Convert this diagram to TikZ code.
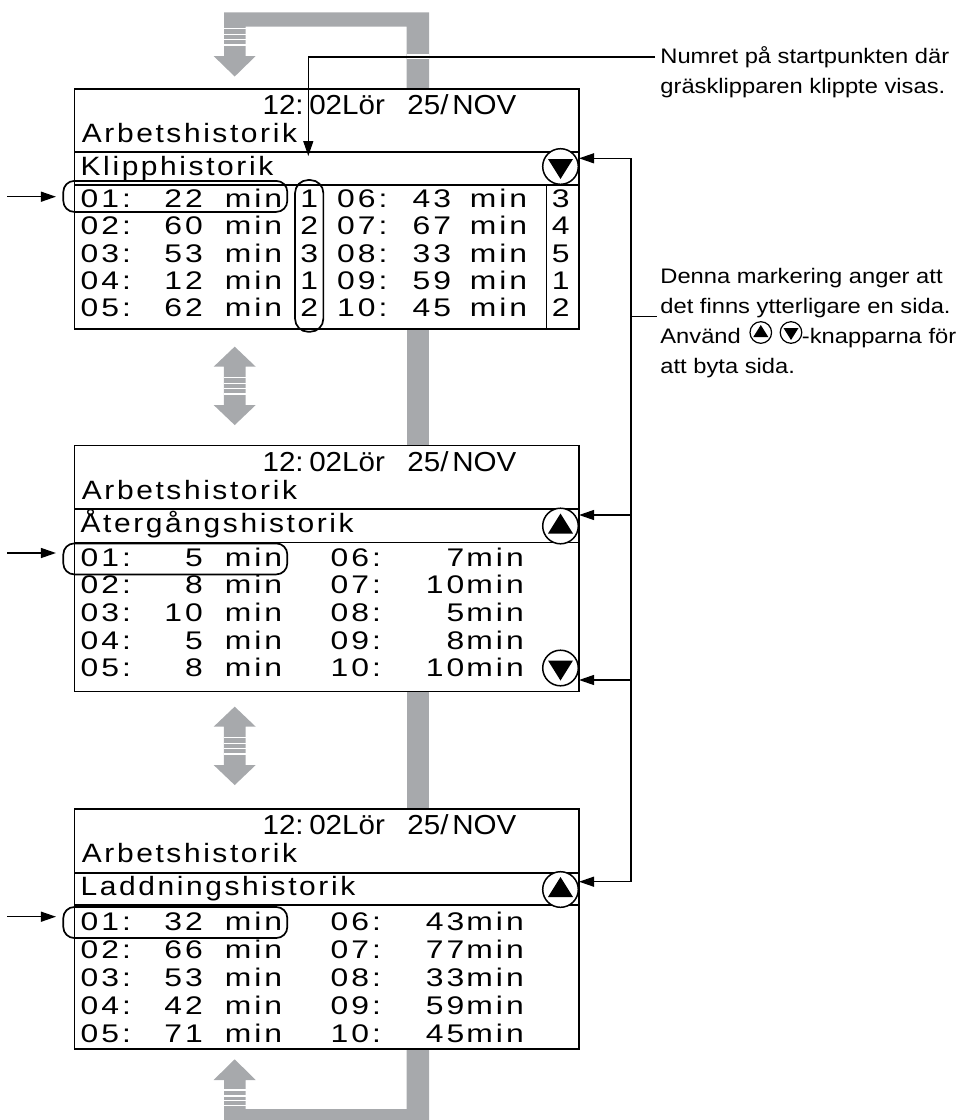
\documentclass[tikz,border=0pt]{standalone}
\usepackage{fontspec}
\setmainfont{Liberation Sans}
\newfontfamily\lcdrow[FakeStretch=1.25,LetterSpace=11.8]{Liberation Sans}
\newfontfamily\lcdtitle[FakeStretch=1.13,LetterSpace=9.8]{Liberation Sans}
\newfontfamily\lcdclock[FakeStretch=1.075]{Liberation Sans}
\newfontfamily\notefont[FakeStretch=1.13]{Liberation Sans}
\usetikzlibrary{arrows.meta,positioning}
\definecolor{bargrey}{HTML}{A7A9AC}

\tikzset{
  uptri/.pic={\fill (-12.5,7.5) -- (12.5,7.5) -- (0,-12.5) -- cycle;},
  dntri/.pic={\fill (-12.5,-7.5) -- (12.5,-7.5) -- (0,12.5) -- cycle;},
  updown/.pic={
    \fill[bargrey] (0,-39.2) -- (21,-19.2) -- (10.85,-19.2) -- (10.85,19.2) -- (21,19.2) -- (0,39.2)
      -- (-21,19.2) -- (-10.85,19.2) -- (-10.85,-19.2) -- (-21,-19.2) -- cycle;
    \foreach \s in {-8.15,-2.55,2.45,8.15} \fill[white] (-10.85,\s-0.65) rectangle (10.85,\s+0.65);
  }
}

\begin{document}
\begin{tikzpicture}[
  x=1pt,y=-1pt,
  panel/.style={draw,line width=1.3pt,inner sep=0,anchor=north west,minimum width=504.3pt},
  rowtxt/.style={inner sep=0,anchor=base west,font=\lcdrow\fontsize{25.5}{30}\selectfont},
  rowval/.style={rowtxt,anchor=base east},
  rowcol/.style={rowtxt,anchor=base},
  title/.style={inner sep=0,anchor=base west,font=\lcdtitle\fontsize{26.5}{30}\selectfont},
  clock/.style={inner sep=0,anchor=base west,font=\lcdclock\fontsize{27.5}{30}\selectfont},
  hsep/.style={line width=2.3pt},
  rule/.style={line width=1.3pt},
  keyring/.style={circle,draw,line width=1.5pt,fill=white,minimum size=35.6pt,inner sep=0},
  minikey/.style={circle,draw,line width=1.2pt,fill=white,minimum size=21.6pt,inner sep=0},
  chosen/.style={draw,line width=1.7pt,rounded corners=11pt,inner sep=0},
  arrow/.style={-{Triangle[length=15pt,width=10pt]},line width=1.3pt},
  wire/.style={line width=1.3pt},
  note/.style={inner sep=0,anchor=base west,font=\notefont\fontsize{21}{30}\selectfont}
]
\useasboundingbox (0,0) rectangle (963,1120);

\fill[bargrey] (224,12.3) -- (429,12.3) -- (429,88.3) -- (406.7,88.3) -- (406.7,26.7) -- (245.7,26.7)
  -- (245.7,56) -- (255.7,56) -- (234.7,76.5) -- (213.6,56) -- (224,56) -- cycle;
\foreach \s in {28.6,34.2,39.2,44.9} \fill[white] (224,\s-0.65) rectangle (245.7,\s+0.65);
\fill[white] (406.7,54.3) rectangle (429,58.7);
\fill[bargrey] (406.7,328.3) rectangle (429,445);
\fill[bargrey] (406.7,690.7) rectangle (429,808.3);
\fill[bargrey] (234.7,1059.3) -- (255.7,1080) -- (245.7,1080) -- (245.7,1109) -- (406.7,1109) -- (406.7,1048.3)
  -- (429,1048.3) -- (429,1120) -- (224,1120) -- (224,1080) -- (213.6,1080) -- cycle;
\foreach \s in {1090,1096,1100.7,1105.7} \fill[white] (224,\s-0.65) rectangle (245.7,\s+0.65);
\pic at (234.7,385.85) {updown};
\pic at (234.7,745.85) {updown};

\foreach \n/\t/\h/\sa/\sb/\head in {1/88.3/240/151.7/185/Klipphistorik,2/445/245.7/509/542.7/Återgångshistorik,3/808.3/240/873.3/905/Laddningshistorik} {
  \node[panel,minimum height=\h pt] (p\n) at (74,\t) {};
  \draw[hsep] (74,\sa) -- (578.3,\sa);
  \draw[rule] (74,\sb) -- (578.3,\sb);
  \node[clock] (clock\n) at (262.4,\t+26) {12:\hspace{5.6pt}02Lör \hspace{14.4pt}25/\hspace{3.7pt}NOV};
  \node[title] (title\n) at (81.7,\t+54.5) {Arbetshistorik};
  \node[title] (head\n) at (80.5,\t+87) {\head};
}

\foreach \a/\b/\c/\d/\e/\f [count=\k from 0] in {01/22/1/06/43/3,02/60/2/07/67/4,03/53/3/08/33/5,04/12/1/09/59/1,05/62/2/10/45/2} {
  \pgfmathsetmacro\y{207.5+27.3*\k}
  \node[rowtxt] (p1i\k) at (80.4,\y) {\a:};
  \node[rowval] (p1v\k) at (203,\y) {\b};
  \node[rowtxt] (p1m\k) at (224.6,\y) {min};
  \node[rowcol] (p1c\k) at (309.2,\y) {\c};
  \node[rowtxt] (p1j\k) at (337,\y) {\d:};
  \node[rowval] (p1w\k) at (451.3,\y) {\e};
  \node[rowtxt] (p1n\k) at (469.6,\y) {min};
  \node[rowcol] (p1s\k) at (560.8,\y) {\f};
}
\draw[rule] (546.7,185) -- (546.7,328.3);

\foreach \a/\b/\d/\e [count=\k from 0] in {01/5/06/7,02/8/07/10,03/10/08/5,04/5/09/8,05/8/10/10} {
  \pgfmathsetmacro\y{566+27.7*\k}
  \node[rowtxt] (p2i\k) at (80.4,\y) {\a:};
  \node[rowval] (p2v\k) at (203,\y) {\b};
  \node[rowtxt] (p2m\k) at (224.6,\y) {min};
  \node[rowtxt] (p2j\k) at (330.4,\y) {\d:};
  \node[rowval] (p2w\k) at (464.6,\y) {\e};
  \node[rowtxt] (p2n\k) at (466.2,\y) {min};
}

\foreach \a/\b/\d/\e [count=\k from 0] in {01/32/06/43,02/66/07/77,03/53/08/33,04/42/09/59,05/71/10/45} {
  \pgfmathsetmacro\y{930+28.2*\k}
  \node[rowtxt] (p3i\k) at (80.4,\y) {\a:};
  \node[rowval] (p3v\k) at (203,\y) {\b};
  \node[rowtxt] (p3m\k) at (224.6,\y) {min};
  \node[rowtxt] (p3j\k) at (330.4,\y) {\d:};
  \node[rowval] (p3w\k) at (464.6,\y) {\e};
  \node[rowtxt] (p3n\k) at (466.2,\y) {min};
}

\node[chosen,minimum width=224pt,minimum height=31pt] (p1pick) at (175.3,196.4) {};
\node[chosen,minimum width=224pt,minimum height=31pt] (p2pick) at (175.3,558.9) {};
\node[chosen,minimum width=224pt,minimum height=31pt] (p3pick) at (175.3,922.5) {};
\node[chosen,rounded corners=13pt,minimum width=28.3pt,minimum height=151.7pt] (p1col) at (309.2,255.9) {};

\coordinate (in1) at (7,196.7);
\coordinate (in2) at (7,553);
\coordinate (in3) at (7,916.7);
\foreach \c/\k in {in1/p1pick,in2/p2pick,in3/p3pick} \draw[arrow,shorten >=6.5pt] (\c) -- (\c -| \k.west);

\node[keyring] (p1dn) at (560.5,166.5) {};
\node[keyring] (p2up) at (560.5,526) {};
\node[keyring] (p2dn) at (560.5,668) {};
\node[keyring] (p3up) at (560.5,889.5) {};
\pic at (p1dn) {dntri};
\pic at (p2up) {uptri};
\pic at (p2dn) {dntri};
\pic at (p3up) {uptri};

\node[note] (num1) at (660.2,63.3) {Numret på startpunkten där};
\node[note] (num2) at (660.2,93.3) {gräsklipparen klippte visas.};
\coordinate (numtip) at (308.3,156);
\draw[arrow] ([xshift=-5pt]num1.west) -| (numtip);

\node[note] (denna1) at (660.2,283.3) {Denna markering anger att};
\node[note] (denna2) at (660.2,313.3) {det finns ytterligare en sida.};
\node[note] (anvand) at (660.2,343.3) {Använd};
\node[minikey] (upkey) at (760.8,332.5) {};
\node[minikey] (dnkey) at (791,332.5) {};
\node[note] (knapp) at (801.7,343.3) {-knapparna för};
\node[note] (byta) at (660.2,373.3) {att byta sida.};
\pic[scale=0.6] at (upkey) {uptri};
\pic[scale=0.6] at (dnkey) {dntri};

\coordinate (b1) at (631,158.3);
\coordinate (b2) at (631,515);
\coordinate (b3) at (631,680);
\coordinate (b4) at (631,881.7);
\coordinate (tick) at (631,316.7);
\draw[wire] (b1) -- (b4);
\draw[wire,shorten >=3.5pt] (tick) -- (tick -| denna2.west);
\foreach \c/\k in {b1/p1dn,b2/p2up,b3/p2dn,b4/p3up} \draw[arrow] (\c) -- (\c -| \k.east);
\end{tikzpicture}
\end{document}
